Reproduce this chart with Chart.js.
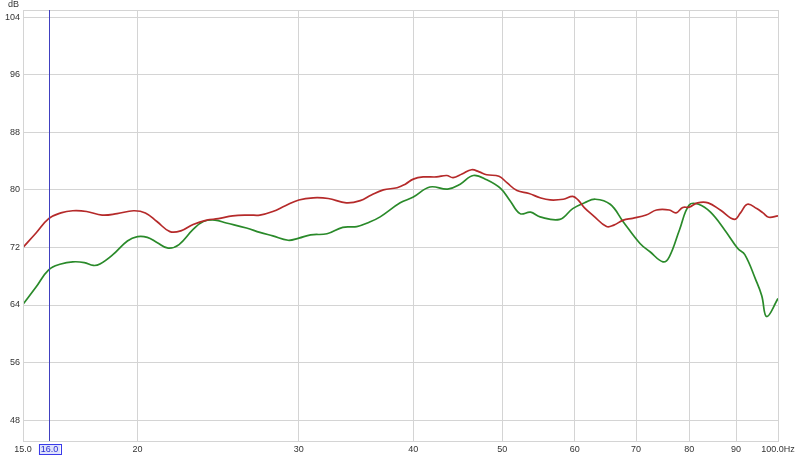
<!DOCTYPE html>
<html>
<head>
<meta charset="utf-8">
<script src="https://cdn.jsdelivr.net/npm/chart.js@4/dist/chart.umd.min.js"></script>
<style>
  html, body { margin: 0; padding: 0; background: #fff; }
  #wrap { width: 800px; height: 455px; }
</style>
</head>
<body>
<div id="wrap"><canvas id="grafico"></canvas></div>
<script>
// Frequências (Hz) e níveis (dB)
const redFreq = [15, 15.5, 16, 16.5, 17, 17.6, 18.3, 19, 19.8, 20.4, 21, 21.7, 22.3, 23, 23.8, 24.5, 25.4, 26.5, 27.2, 28.1, 29, 30, 31.1, 32.3, 33.8, 35, 36, 37.1, 38.4, 39.2, 40, 41, 42.4, 43.5, 44.2, 45.2, 46.3, 47.2, 48.1, 49.6, 50.6, 51.9, 53.5, 55, 56.4, 58.3, 59.7, 60.5, 61.5, 62.9, 65, 66.2, 67.8, 69.4, 71.8, 73.7, 76.1, 77.4, 78.7, 80, 81.7, 83.9, 86.5, 89.6, 91, 92.6, 94.8, 96.3, 97.7, 100];
const redDb = [72.0, 74.0, 76.0, 76.8, 77.1, 77.0, 76.5, 76.7, 77.1, 76.8, 75.6, 74.2, 74.3, 75.2, 75.8, 76.0, 76.4, 76.5, 76.5, 77.0, 77.8, 78.6, 78.9, 78.8, 78.2, 78.5, 79.3, 80.0, 80.3, 80.8, 81.5, 81.8, 81.8, 82.0, 81.7, 82.2, 82.8, 82.5, 82.1, 81.9, 81.0, 79.9, 79.5, 78.9, 78.6, 78.7, 79.1, 78.6, 77.5, 76.4, 74.9, 75.1, 75.8, 76.05, 76.5, 77.2, 77.2, 76.8, 77.55, 77.6, 78.2, 78.2, 77.2, 75.9, 76.8, 78.0, 77.4, 76.8, 76.2, 76.4];

const greenFreq = [15, 15.5, 16, 16.5, 17, 17.5, 17.9, 18.2, 18.8, 19.5, 20, 20.5, 21, 21.6, 22.2, 23, 23.6, 24.3, 25, 26.3, 27.2, 28.1, 29.2, 30, 30.9, 32.2, 33.5, 34.7, 35.8, 36.8, 38.7, 40, 41.7, 43.6, 45, 46.5, 48.1, 49.8, 51, 52.3, 53.7, 55, 57.8, 59.7, 61.5, 63.2, 65.6, 67.8, 70.7, 72.5, 74.9, 76.1, 78.1, 80, 81.9, 84.4, 87.5, 90.4, 92, 94.5, 96, 97.2, 100];
const greenDb = [64.1, 66.5, 68.9, 69.7, 70.0, 69.9, 69.5, 69.7, 71.0, 72.9, 73.5, 73.4, 72.7, 71.9, 72.4, 74.5, 75.6, 75.8, 75.4, 74.7, 74.1, 73.6, 73.0, 73.3, 73.75, 73.9, 74.8, 74.9, 75.5, 76.25, 78.2, 79.0, 80.4, 80.1, 80.8, 82.0, 81.4, 80.2, 78.5, 76.7, 76.9, 76.25, 75.9, 77.4, 78.2, 78.7, 78.0, 75.55, 72.55, 71.4, 70.0, 70.7, 74.5, 77.9, 78.0, 76.9, 74.4, 71.85, 71.0, 67.6, 65.3, 62.4, 64.9];

const xTicks = [15, 20, 30, 40, 50, 60, 70, 80, 90, 100];
const xTickLabels = ['15.0', '20', '30', '40', '50', '60', '70', '80', '90', '100.0Hz'];
const yTicks = [48, 56, 64, 72, 80, 88, 96, 104];
const cursorFreq = 16.0;

const fonte = { family: '"Liberation Sans", Arial, sans-serif', size: 9 };

// Moldura, rótulo "dB" e cursor azul
const extras = {
    id: 'extras',
    afterDatasetsDraw(chart) {
        const ctx = chart.ctx;
        const a = chart.chartArea;
        const x = Math.round(chart.scales.x.getPixelForValue(cursorFreq)) + 0.5;
        ctx.save();
        ctx.strokeStyle = '#d4d4d4';
        ctx.lineWidth = 1;
        ctx.strokeRect(a.left + 0.5, a.top + 0.5, a.right - a.left, a.bottom - a.top);

        ctx.strokeStyle = '#4040c0';
        ctx.beginPath();
        ctx.moveTo(x, a.top);
        ctx.lineTo(x, a.bottom);
        ctx.stroke();

        ctx.font = '9px "Liberation Sans", Arial, sans-serif';
        ctx.fillStyle = '#333';
        ctx.textBaseline = 'middle';
        ctx.textAlign = 'left';
        ctx.fillText('dB', 8, 5);

        // caixa do cursor
        const txt = cursorFreq.toFixed(1);
        const w = ctx.measureText(txt).width + 4;
        ctx.fillStyle = '#dfe3fb';
        ctx.fillRect(x - w / 2, a.bottom + 3, w, 11);
        ctx.strokeStyle = '#3a3aea';
        ctx.strokeRect(Math.round(x - w / 2) + 0.5, a.bottom + 3.5, Math.round(w), 10);
        ctx.fillStyle = '#2a2ad0';
        ctx.textAlign = 'center';
        ctx.fillText(txt, x, a.bottom + 9);
        ctx.restore();
    }
};

new Chart(document.getElementById('grafico'), {
    type: 'line',
    data: {
        datasets: [{
            data: redFreq.map((f, i) => ({ x: f, y: redDb[i] })),
            borderColor: '#b52a2a',
            borderWidth: 1.7,
            pointRadius: 0,
            tension: 0.4
        }, {
            data: greenFreq.map((f, i) => ({ x: f, y: greenDb[i] })),
            borderColor: '#2a8a2a',
            borderWidth: 1.7,
            pointRadius: 0,
            tension: 0.4
        }]
    },
    options: {
        responsive: true,
        maintainAspectRatio: false,
        animation: false,
        layout: { padding: { top: 10, right: 22, left: 0, bottom: 0 } },
        plugins: {
            legend: { display: false },
            tooltip: { enabled: false }
        },
        scales: {
            x: {
                type: 'logarithmic',
                min: 15,
                max: 100,
                afterBuildTicks: scale => { scale.ticks = xTicks.map(v => ({ value: v })); },
                afterFit: scale => { scale.height = 14; },
                ticks: {
                    autoSkip: false,
                    maxRotation: 0,
                    padding: 3,
                    color: '#333',
                    font: fonte,
                    callback: (v) => xTickLabels[xTicks.indexOf(v)]
                },
                grid: { color: '#d4d4d4', drawTicks: false },
                border: { color: '#d4d4d4' }
            },
            y: {
                min: 45.1,
                max: 105,
                afterBuildTicks: scale => { scale.ticks = yTicks.map(v => ({ value: v })); },
                afterFit: scale => { scale.width = 23; },
                ticks: {
                    padding: 3,
                    color: '#333',
                    font: fonte
                },
                grid: { color: '#d4d4d4', drawTicks: false },
                border: { color: '#d4d4d4' }
            }
        }
    },
    plugins: [extras]
});
</script>
</body>
</html>
